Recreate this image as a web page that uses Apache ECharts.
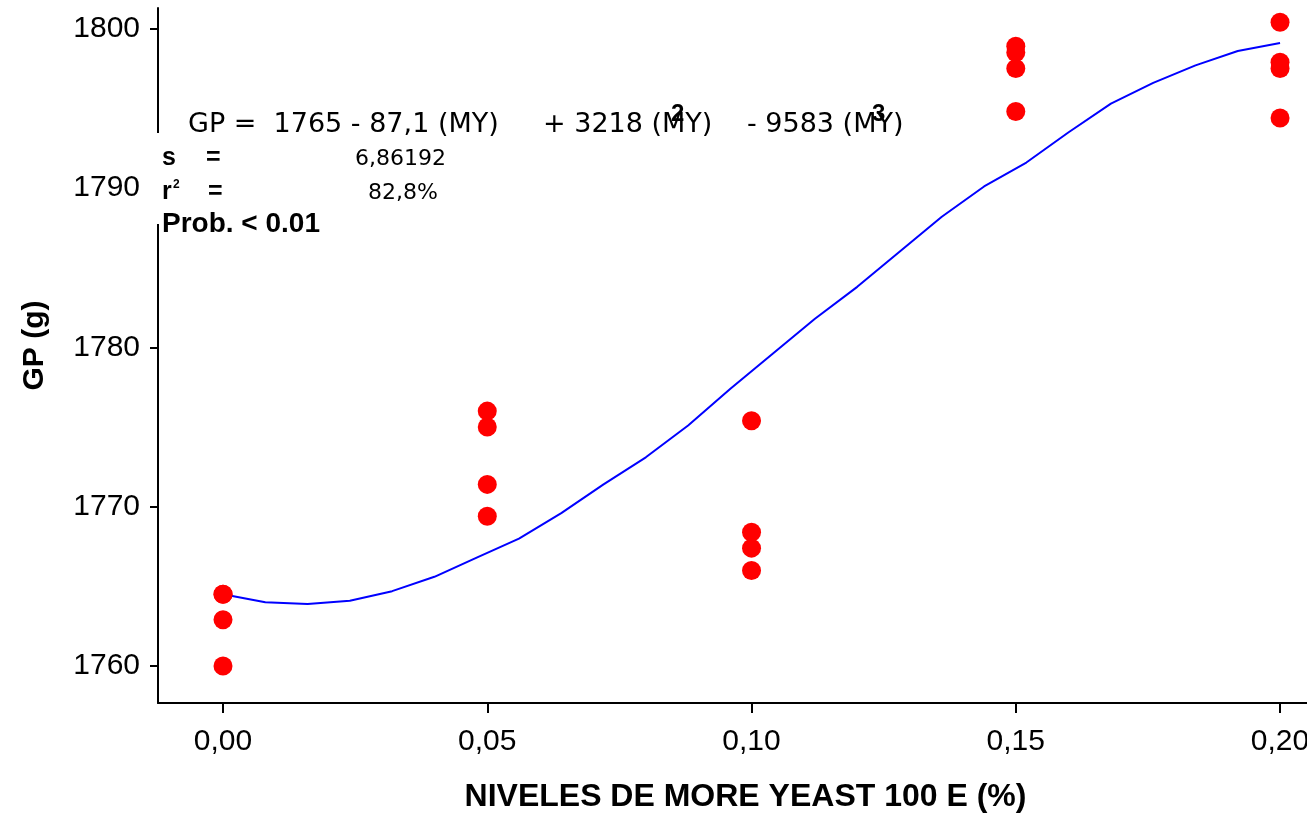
<!DOCTYPE html>
<html>
<head>
  <meta charset="utf-8" />
  <title>GP vs niveles de More Yeast 100 E</title>
  <script src="https://cdn.jsdelivr.net/npm/echarts@6/dist/echarts.min.js"></script>
  <style>
    html, body { margin: 0; padding: 0; background: #fff; }
    #chart { width: 1307px; height: 813px; }
  </style>
</head>
<body>
  <div id="chart"></div>
  <script>
    // observaciones por nivel (4 repeticiones)
    const niveles = [0, 0.05, 0.10, 0.15, 0.20]
    const obs000 = [1764.5, 1764.5, 1762.9, 1760.0]
    const obs005 = [1776.0, 1775.0, 1771.4, 1769.4]
    const obs010 = [1775.4, 1768.4, 1767.4, 1766.0]
    const obs015 = [1798.9, 1798.5, 1797.5, 1794.8]
    const obs020 = [1800.4, 1797.9, 1797.5, 1794.4]

    // curva ajustada
    const curvaX = [0, 0.008, 0.016, 0.024, 0.032, 0.040, 0.048, 0.056, 0.064, 0.072, 0.080, 0.088, 0.096,
      0.104, 0.112, 0.120, 0.128, 0.136, 0.144, 0.152, 0.160, 0.168, 0.176, 0.184, 0.192, 0.200]
    const curvaY = [1764.5, 1764.0, 1763.9, 1764.1, 1764.7, 1765.6, 1766.8, 1768.0, 1769.6, 1771.4, 1773.1, 1775.1, 1777.4,
      1779.6, 1781.8, 1783.8, 1786.0, 1788.2, 1790.1, 1791.6, 1793.5, 1795.3, 1796.6, 1797.7, 1798.6, 1799.1]

    const xTicks = [0, 0.05, 0.10, 0.15, 0.20]
    const yTicks = [1760, 1770, 1780, 1790, 1800]

    const obsAll = [obs000, obs005, obs010, obs015, obs020]
    const puntos = []
    niveles.forEach((n, i) => obsAll[i].forEach(v => puntos.push([n, v])))
    const curva = curvaX.map((x, i) => [x, curvaY[i]])

    const fuente = "'Liberation Sans', Arial, sans-serif"
    const fuenteEq = "'DejaVu Sans', Verdana, sans-serif"

    const chart = echarts.init(document.getElementById("chart"))
    chart.setOption({
      animation: false,
      backgroundColor: "#fff",
      grid: { left: 158, right: 0, top: 8, bottom: 110, containLabel: false, outerBoundsMode: "none" },
      xAxis: {
        type: "value",
        min: -0.0123,
        max: 0.2051,
        name: "NIVELES DE MORE YEAST 100 E (%)",
        nameLocation: "middle",
        nameGap: 78,
        nameTextStyle: { color: "#000", fontFamily: fuente, fontWeight: "bold", fontSize: 32, padding: [0, 0, 0, 26] },
        axisLine: { onZero: false, lineStyle: { color: "#000", width: 2 } },
        axisTick: { show: true, length: 10, customValues: xTicks, lineStyle: { color: "#000", width: 2 } },
        axisLabel: {
          customValues: xTicks,
          margin: 24,
          color: "#000",
          fontFamily: fuente,
          fontSize: 30,
          formatter: v => v.toFixed(2).replace(".", ",")
        },
        splitLine: { show: false }
      },
      yAxis: {
        type: "value",
        min: 1757.68,
        max: 1801.3,
        name: "GP (g)",
        nameLocation: "middle",
        nameGap: 108,
        nameTextStyle: { color: "#000", fontFamily: fuente, fontWeight: "bold", fontSize: 30, padding: [0, 0, 0, 20] },
        axisLine: { onZero: false, lineStyle: { color: "#000", width: 2 } },
        axisTick: { show: true, length: 8, customValues: yTicks, lineStyle: { color: "#000", width: 2 } },
        axisLabel: {
          customValues: yTicks,
          margin: 18,
          color: "#000",
          fontFamily: fuente,
          fontSize: 30,
          formatter: v => String(v)
        },
        splitLine: { show: false }
      },
      series: [
        {
          type: "line",
          data: curva,
          symbol: "none",
          smooth: false,
          lineStyle: { color: "#0000ff", width: 2 },
          z: 2
        },
        {
          type: "scatter",
          data: puntos,
          symbolSize: 19,
          itemStyle: { color: "#ff0000", opacity: 1 },
          z: 3
        }
      ],
      graphic: [
        // caja de texto que tapa el eje
        { type: "rect", z: 100, shape: { x: 150, y: 133, width: 14, height: 91 }, style: { fill: "#fff" } },
        { type: "text", z: 101, left: 188, top: 111, style: { text: "GP =  1765 - 87,1 (MY)", font: "27px " + fuenteEq, fill: "#000" } },
        { type: "text", z: 101, left: 543, top: 111, style: { text: "+ 3218 (MY)", font: "27px " + fuenteEq, fill: "#000" } },
        { type: "text", z: 101, left: 747, top: 111, style: { text: "- 9583 (MY)", font: "27px " + fuenteEq, fill: "#000" } },
        { type: "text", z: 102, left: 671, top: 102, style: { text: "2", font: "bold 24px " + fuente, fill: "#000" } },
        { type: "text", z: 102, left: 872, top: 102, style: { text: "3", font: "bold 24px " + fuente, fill: "#000" } },
        { type: "text", z: 101, left: 162, top: 146, style: { text: "s", font: "bold 25px " + fuente, fill: "#000" } },
        { type: "text", z: 101, left: 206, top: 146, style: { text: "=", font: "bold 25px " + fuente, fill: "#000" } },
        { type: "text", z: 101, left: 355, top: 148, style: { text: "6,86192", font: "22px " + fuenteEq, fill: "#000" } },
        { type: "text", z: 101, left: 162, top: 180, style: { text: "r", font: "bold 25px " + fuente, fill: "#000" } },
        { type: "text", z: 101, left: 173, top: 179, style: { text: "2", font: "bold 12px " + fuente, fill: "#000" } },
        { type: "text", z: 101, left: 208, top: 180, style: { text: "=", font: "bold 25px " + fuente, fill: "#000" } },
        { type: "text", z: 101, left: 368, top: 182, style: { text: "82,8%", font: "22px " + fuenteEq, fill: "#000" } },
        { type: "text", z: 101, left: 162, top: 210, style: { text: "Prob. < 0.01", font: "bold 28px " + fuente, fill: "#000" } }
      ]
    })
  </script>
</body>
</html>
